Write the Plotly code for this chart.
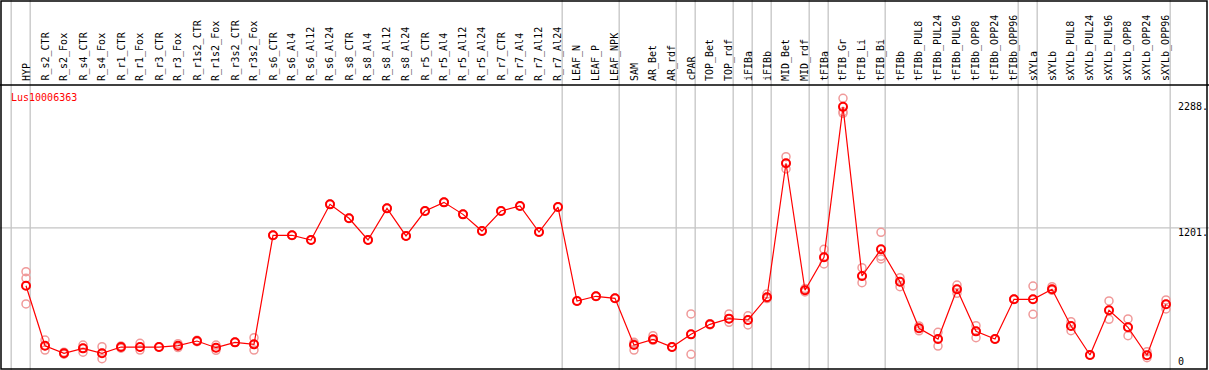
import plotly.graph_objects as go

categories = ["HYP", "R_s2_CTR", "R_s2_Fox", "R_s4_CTR", "R_s4_Fox", "R_r1_CTR", "R_r1_Fox",
              "R_r3_CTR", "R_r3_Fox", "R_r1s2_CTR", "R_r1s2_Fox", "R_r3s2_CTR", "R_r3s2_Fox",
              "R_s6_CTR", "R_s6_Al4", "R_s6_Al12", "R_s6_Al24", "R_s8_CTR", "R_s8_Al4", "R_s8_Al12",
              "R_s8_Al24", "R_r5_CTR", "R_r5_Al4", "R_r5_Al12", "R_r5_Al24", "R_r7_CTR", "R_r7_Al4",
              "R_r7_Al12", "R_r7_Al24", "LEAF_N", "LEAF_P", "LEAF_NPK", "SAM", "AR_Bet", "AR_rdf",
              "cPAR", "TOP_Bet", "TOP_rdf", "iFIBa", "iFIBb", "MID_Bet", "MID_rdf", "tFIBa",
              "tFIB_Gr", "tFIB_Li", "tFIB_Bi", "tFIBb", "tFIBb_PUL8", "tFIBb_PUL24", "tFIBb_PUL96",
              "tFIBb_OPP8", "tFIBb_OPP24", "tFIBb_OPP96", "sXYLa", "sXYLb", "sXYLb_PUL8",
              "sXYLb_PUL24", "sXYLb_PUL96", "sXYLb_OPP8", "sXYLb_OPP24", "sXYLb_OPP96"]

mean_values = [681, 142, 74, 118, 74, 130, 130, 130, 142, 184, 124, 172, 154,
               1134, 1134, 1092, 1412, 1287, 1092, 1376, 1128, 1352, 1430, 1322, 1172,
               1352, 1397, 1163, 1388, 543, 586, 568, 148, 199, 130, 244, 334, 385,
               373, 577, 1781, 640, 936, 2288, 768, 1008, 717, 298, 202, 649, 271,
               202, 559, 559, 649, 319, 58, 460, 307, 56, 514]

rep1 = [807, 193, 84, 148, 133, 140, 163, 130, 160, 190, 148, 172, 214,
        1134, 1134, 1092, 1412, 1287, 1092, 1376, 1128, 1352, 1430, 1322, 1172,
        1352, 1397, 1163, 1388, 543, 586, 568, 172, 232, 130, 427, 340, 427,
        411, 606, 1840, 655, 1008, 2365, 843, 1161, 753, 320, 262, 687, 322,
        202, 559, 678, 672, 358, 58, 544, 382, 88, 553]
rep2 = [517, 103, 66, 83, 25, 120, 103, 130, 125, 178, 100, 172, 103,
        1134, 1134, 1092, 1412, 1287, 1092, 1376, 1128, 1352, 1430, 1322, 1172,
        1352, 1397, 1163, 1388, 543, 586, 568, 103, 190, 130, 65, 330, 352,
        328, 565, 1730, 625, 876, 2244, 708, 921, 672, 276, 139, 613, 214,
        202, 559, 424, 640, 277, 58, 379, 232, 34, 472]
rep3 = [747, 142, 74, 118, 74, 130, 130, 130, 142, 184, 124, 172, 154,
        1134, 1134, 1092, 1412, 1287, 1092, 1376, 1128, 1352, 1430, 1322, 1172,
        1352, 1397, 1163, 1388, 543, 586, 568, 160, 199, 130, 244, 334, 385,
        373, 577, 1781, 640, 936, 2230, 768, 945, 717, 298, 202, 649, 271,
        202, 559, 559, 649, 319, 58, 460, 307, 56, 514]

group_starts = [0, 1, 29, 32, 35, 36, 38, 39, 40, 42, 43, 46, 53, 54, 61]
gene_name = "Lus10006363"
tick_labels = ["2288.", "1201.", "0"]
grid_values = [1201]

W, H = 1209, 370
X0_PX, DX_PX = 26.0, 19.0          # pixel of first category, pixel step
Y0_PX, KY = 361.5, 0.1113          # pixel of value 0, pixels per unit
HEADER_PX = 85

x_idx = list(range(len(categories)))
x_range = [(0 - X0_PX) / DX_PX, (W - X0_PX) / DX_PX]
y_range = [(Y0_PX - H) / KY, Y0_PX / KY]

RED = "#ff0000"
PINK = "#f09a9a"

fig = go.Figure()
for rep in (rep1, rep2, rep3):
    fig.add_trace(go.Scatter(
        x=x_idx, y=rep, mode="markers",
        marker=dict(symbol="circle-open", size=8, color=PINK, line=dict(width=1.5, color=PINK)),
        hoverinfo="skip", showlegend=False))
fig.add_trace(go.Scatter(
    x=x_idx, y=mean_values, mode="lines+markers",
    line=dict(color=RED, width=1.2),
    marker=dict(symbol="circle-open", size=8, color=RED, line=dict(width=2, color=RED)),
    showlegend=False, name=gene_name))

shapes = []
for g in group_starts:
    shapes.append(dict(type="line", xref="x", yref="paper", x0=g - 0.78, x1=g - 0.78,
                       y0=0, y1=1, line=dict(color="#c4c4c4", width=1.3), layer="below"))
for gv in grid_values:
    shapes.append(dict(type="line", xref="paper", yref="y", x0=0, x1=1, y0=gv, y1=gv,
                       line=dict(color="#c4c4c4", width=1.3), layer="below"))
hy = 1 - HEADER_PX / H
shapes += [
    dict(type="line", xref="paper", yref="paper", x0=0, x1=1, y0=hy, y1=hy,
         line=dict(color="black", width=1.5)),
    dict(type="rect", xref="paper", yref="paper", x0=1 / W, x1=1 - 2 / W, y0=1 / H, y1=1 - 1 / H,
         line=dict(color="black", width=1.5), fillcolor="rgba(0,0,0,0)"),
]

annotations = []
for i, c in enumerate(categories):
    annotations.append(dict(x=i, y=1 - 83 / H, xref="x", yref="paper", text=c,
                            textangle=-90, showarrow=False, xanchor="center", yanchor="bottom",
                            font=dict(family="DejaVu Sans Mono", size=10, color="black")))
annotations.append(dict(x=9 / W, y=1 - 97.5 / H, xref="paper", yref="paper", text=gene_name,
                        showarrow=False, xanchor="left", yanchor="middle",
                        font=dict(family="DejaVu Sans Mono", size=10, color=RED)))
label_px = [106.7, 232.7, 361.7]
for lab, py in zip(tick_labels, label_px):
    annotations.append(dict(x=1176 / W, y=1 - py / H, xref="paper", yref="paper", text=lab,
                            showarrow=False, xanchor="left", yanchor="middle",
                            font=dict(family="DejaVu Sans Mono", size=10, color="black")))

fig.update_layout(
    width=W, height=H, margin=dict(l=0, r=0, t=0, b=0),
    paper_bgcolor="white", plot_bgcolor="white", hovermode=False,
    xaxis=dict(range=x_range, visible=False, showgrid=False, zeroline=False),
    yaxis=dict(range=y_range, visible=False, showgrid=False, zeroline=False),
    shapes=shapes, annotations=annotations)

fig.write_html("out.html", config={"displayModeBar": False},
               post_script="document.body.style.margin='0';document.body.style.padding='0';")
